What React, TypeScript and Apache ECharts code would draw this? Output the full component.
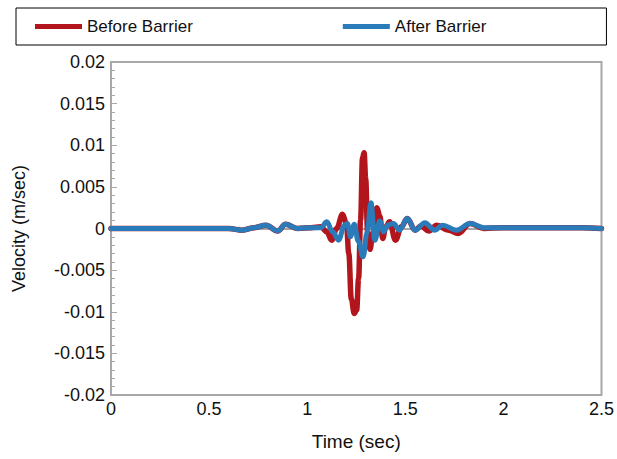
import React, { useEffect, useRef } from "react";
import * as echarts from "echarts";

const seriesNames = ["Before Barrier", "After Barrier"];

const beforeTime = [0, 0.3, 0.6, 0.67, 0.73, 0.79, 0.85, 0.89, 0.95, 1.02, 1.07, 1.1, 1.125, 1.15, 1.18, 1.2, 1.212, 1.225, 1.24, 1.252, 1.262, 1.272, 1.282, 1.29, 1.298, 1.308, 1.32, 1.335, 1.355, 1.37, 1.385, 1.4, 1.42, 1.45, 1.48, 1.51, 1.55, 1.58, 1.62, 1.66, 1.72, 1.77, 1.83, 1.9, 2.0, 2.2, 2.4, 2.5];
const beforeVel = [0, 0, 0, -0.0002, 0.0001, 0.0004, -0.0003, 0.0005, 0, 0.0001, 0.0002, -0.0004, -0.0014, 0, 0.0017, 0.0006, -0.003, -0.0085, -0.0102, -0.0098, -0.006, 0.001, 0.0085, 0.0091, 0.006, -0.0005, -0.0025, -0.0005, 0.0025, 0.0015, -0.0012, 0.0002, 0.0008, -0.0014, 0.0002, 0.0012, -0.0002, 0.0003, -0.0003, 0.0004, -0.0002, -0.0006, 0.0006, 0, 0.0001, 0.0001, 0.0001, 0];

const afterTime = [0, 0.3, 0.6, 0.67, 0.73, 0.79, 0.85, 0.89, 0.95, 1.02, 1.07, 1.1, 1.13, 1.16, 1.19, 1.205, 1.22, 1.24, 1.26, 1.285, 1.305, 1.325, 1.345, 1.37, 1.39, 1.41, 1.44, 1.47, 1.51, 1.55, 1.6, 1.65, 1.69, 1.76, 1.83, 1.9, 2.0, 2.2, 2.4, 2.5];
const afterVel = [0, 0, 0, -0.0002, 0.0001, 0.0004, -0.0003, 0.0005, 0, 0.0001, 0.0001, 0.0008, -0.0004, -0.0014, 0.0004, 0.0006, -0.001, 0.0005, -0.0015, -0.0034, -0.0005, 0.0031, -0.0014, 0.0009, -0.0004, 0.0004, 0.0006, -0.0002, 0.0012, -0.0002, 0.0007, -0.0002, 0.0004, -0.0002, 0.0006, 0.0001, 0.0001, 0.0001, 0.0001, 0];

const xTicks = [0, 0.5, 1, 1.5, 2, 2.5];
const yTicks = [-0.02, -0.015, -0.01, -0.005, 0, 0.005, 0.01, 0.015, 0.02];

const RED = "#b3151c";
const BLUE = "#2a7bba";
const FONT = "Liberation Sans, Arial, sans-serif";

export default function App() {
  const ref = useRef<HTMLDivElement>(null);
  useEffect(() => {
    if (!ref.current) return;
    const chart = echarts.init(ref.current, undefined, { renderer: "svg" });
    const pairs = (ts: number[], vs: number[]) => ts.map((t, i) => [t, vs[i]]);
    chart.setOption({
      animation: false,
      backgroundColor: "#ffffff",
      textStyle: { fontFamily: FONT },
      legend: {
        left: 16,
        top: 8,
        data: seriesNames,
        icon: "rect",
        itemWidth: 47,
        itemHeight: 5,
        itemGap: 150,
        padding: [10, 120, 10, 19],
        borderColor: "#000",
        borderWidth: 1,
        textStyle: { fontSize: 17, color: "#111", fontFamily: FONT },
      },
      grid: {
        left: 111,
        right: 12,
        top: 62,
        bottom: 64,
        show: true,
        borderColor: "#a8a8a8",
        borderWidth: 2,
      },
      xAxis: {
        type: "value",
        min: xTicks[0],
        max: xTicks[xTicks.length - 1],
        interval: 0.5,
        name: "Time (sec)",
        nameLocation: "middle",
        nameGap: 37,
        nameTextStyle: { fontSize: 19, color: "#111", fontFamily: FONT },
        axisLine: { show: true, lineStyle: { color: "#a8a8a8", width: 2 } },
        axisTick: { show: false },
        splitLine: { show: false },
        axisLabel: { fontSize: 18, color: "#111", margin: 5, fontFamily: FONT, formatter: (v: number) => String(parseFloat(v.toFixed(2))) },
      },
      yAxis: {
        type: "value",
        min: yTicks[0],
        max: yTicks[yTicks.length - 1],
        interval: 0.005,
        name: "Velocity (m/sec)",
        nameLocation: "middle",
        nameGap: 83,
        nameTextStyle: { fontSize: 18, color: "#111", fontFamily: FONT },
        axisLine: { show: true, lineStyle: { color: "#a8a8a8", width: 2 } },
        axisTick: { show: true, inside: true, length: 6, lineStyle: { color: "#a8a8a8", width: 1 } },
        minorTick: { show: true, splitNumber: 5, length: 4, lineStyle: { color: "#a8a8a8", width: 1 } },
        splitLine: { show: false },
        axisLabel: { fontSize: 18, color: "#111", margin: 6, fontFamily: FONT, formatter: (v: number) => String(parseFloat(v.toFixed(3))) },
      },
      series: [
        {
          name: seriesNames[0],
          type: "line",
          data: pairs(beforeTime, beforeVel),
          showSymbol: false,
          smooth: 0.4,
          smoothMonotone: "x",
          color: RED,
          lineStyle: { color: RED, width: 5.5, cap: "round", join: "round" },
          z: 2,
        },
        {
          name: seriesNames[1],
          type: "line",
          data: pairs(afterTime, afterVel),
          showSymbol: false,
          smooth: 0.4,
          smoothMonotone: "x",
          color: BLUE,
          lineStyle: { color: BLUE, width: 5, cap: "round", join: "round" },
          z: 3,
        },
      ],
    });
    return () => chart.dispose();
  }, []);
  return <div ref={ref} style={{ width: 617, height: 459, position: "absolute", left: 0, top: 0 }} />;
}
